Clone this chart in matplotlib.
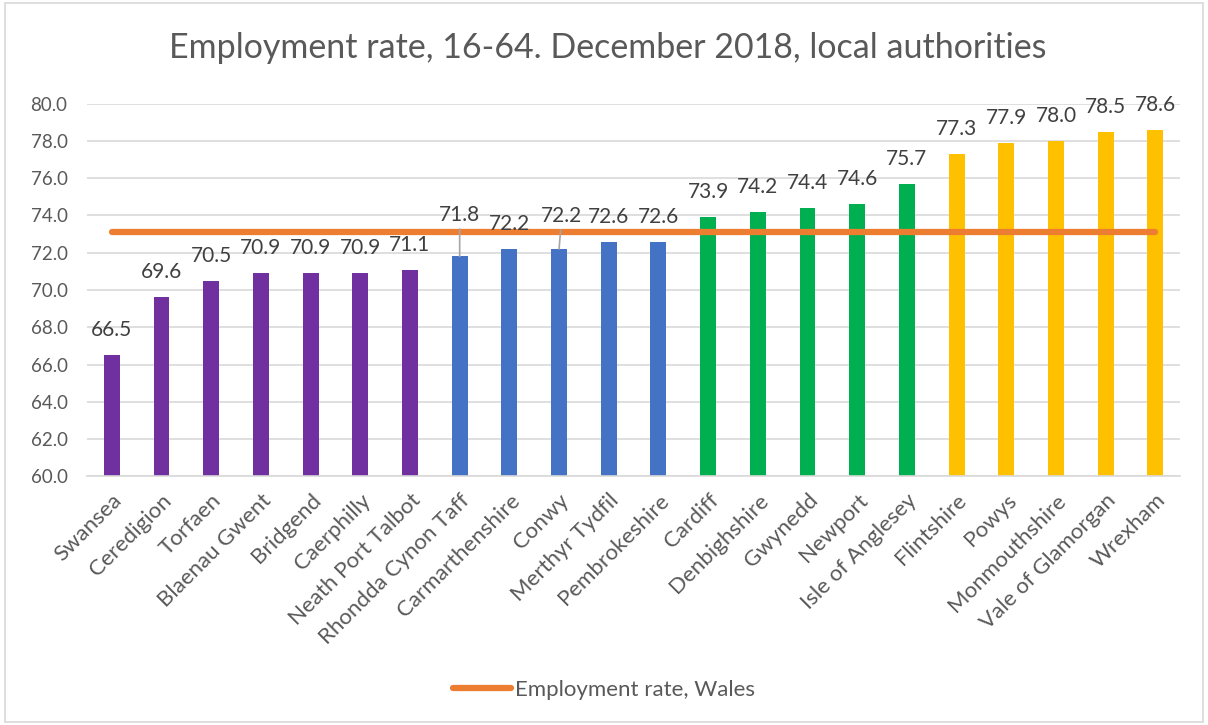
import numpy as np
import matplotlib
matplotlib.use("Agg")
import matplotlib.pyplot as plt
from matplotlib.patches import Rectangle
from matplotlib.lines import Line2D

# Data
areas = ["Swansea", "Ceredigion", "Torfaen", "Blaenau Gwent", "Bridgend",
         "Caerphilly", "Neath Port Talbot", "Rhondda Cynon Taff",
         "Carmarthenshire", "Conwy", "Merthyr Tydfil", "Pembrokeshire",
         "Cardiff", "Denbighshire", "Gwynedd", "Newport", "Isle of Anglesey",
         "Flintshire", "Powys", "Monmouthshire", "Vale of Glamorgan", "Wrexham"]
rates = [66.5, 69.6, 70.5, 70.9, 70.9, 70.9, 71.1, 71.8, 72.2, 72.2, 72.6, 72.6,
         73.9, 74.2, 74.4, 74.6, 75.7, 77.3, 77.9, 78.0, 78.5, 78.6]
groups = [0] * 7 + [1] * 5 + [2] * 5 + [3] * 5
wales_rate = 73.1

group_colors = ["#7030A0", "#4472C4", "#00B050", "#FFC000"]
text_col = "#595959"

plt.rcParams["font.family"] = ["Lato", "DejaVu Sans"]

fig = plt.figure(figsize=(12.08, 7.25), dpi=100)
ax = fig.add_axes([0.072, 0.343, 0.905, 0.514])

x = np.arange(len(areas))
ax.bar(x, [r - 60 for r in rates], bottom=60, width=0.32,
       color=[group_colors[g] for g in groups], zorder=2)
ax.plot(x, [wales_rate] * len(x), color="#ED7D31", lw=4.5,
        solid_capstyle="round", zorder=3)

# data labels (two of them pushed up with leader lines, as in the original)
for i, v in enumerate(rates):
    dx, dy, leader = 0, 18, False
    if areas[i] == "Rhondda Cynon Taff":
        dy, leader = 30, True
    elif areas[i] == "Conwy":
        dx, dy, leader = 2, 24, True
    ax.annotate(f"{v:.1f}", xy=(i, v), xytext=(dx, dy), textcoords="offset points",
                ha="center", va="center", fontsize=15, color="#404040", zorder=4,
                arrowprops=dict(arrowstyle="-", color="#A6A6A6", lw=1.2,
                                shrinkA=1, shrinkB=0) if leader else None)

ax.set_xlim(-0.5, len(areas) - 0.5)
ax.set_ylim(60, 80)
ax.set_yticks(np.arange(60, 80.1, 2))
ax.set_yticklabels([f"{t:.1f}" for t in np.arange(60, 80.1, 2)])
ax.set_xticks(x)
ax.set_xticklabels(areas, rotation=45, ha="right", rotation_mode="anchor")
ax.tick_params(axis="both", length=0, colors=text_col)
ax.tick_params(axis="x", pad=10, labelsize=16)
ax.tick_params(axis="y", pad=14, labelsize=13.5)
ax.grid(axis="y", color="#D9D9D9", lw=1.2, zorder=0)
ax.set_axisbelow(True)
for side in ["top", "right", "left"]:
    ax.spines[side].set_visible(False)
ax.spines["bottom"].set_color("#D9D9D9")
ax.spines["bottom"].set_linewidth(1.2)

fig.text(0.503, 0.934, "Employment rate, 16-64. December 2018, local authorities",
         ha="center", va="center", fontsize=24.5, color=text_col)

handle = Line2D([], [], color="#ED7D31", lw=4.5, solid_capstyle="round")
fig.legend([handle], ["Employment rate, Wales"], loc="center",
           bbox_to_anchor=(0.5, 0.048), frameon=False, fontsize=16,
           labelcolor=text_col, handlelength=2.6, handletextpad=0.2)

fig.patches.append(Rectangle((0.004, 0.004), 0.992, 0.992, transform=fig.transFigure,
                             fill=False, edgecolor="#D9D9D9", lw=1.2))

fig.savefig("out.png", dpi=100, facecolor="white")
